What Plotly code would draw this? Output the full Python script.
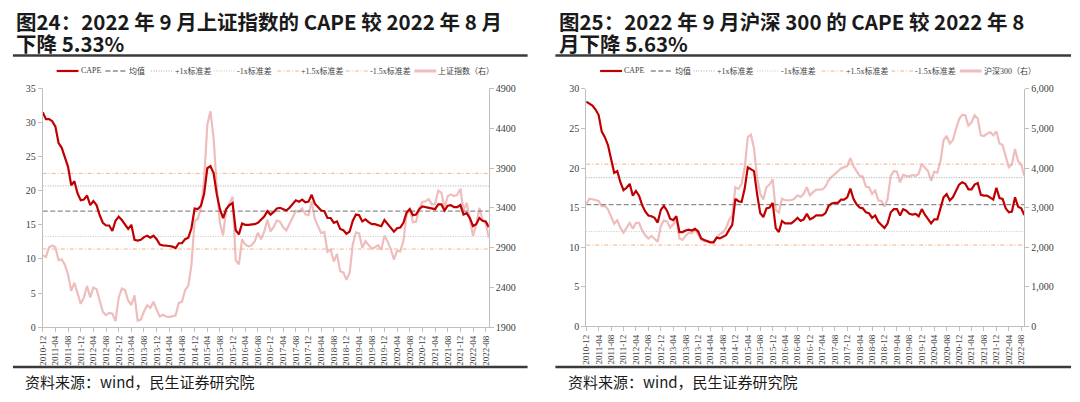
import pandas as pd
import plotly.graph_objects as go

# ---------------- data ----------------
months = pd.date_range("2010-12-01", periods=142, freq="MS").strftime("%Y-%m").tolist()
tick_months = months[::4]

sh_cape = [
    31.5, 30.5, 30.5, 30.2, 29.4, 27.0, 26.3, 25.0, 23.5, 20.8,
    21.4, 19.6, 18.6, 18.7, 19.3, 17.9, 18.5, 17.9, 16.4, 15.3,
    14.9, 14.9, 14.1, 15.6, 16.2, 15.7, 15.0, 14.4, 15.0, 12.8,
    12.7, 12.8, 13.2, 13.4, 13.1, 13.4, 12.9, 12.1, 12.0, 12.0,
    11.9, 11.8, 11.6, 12.3, 12.3, 12.9, 13.1, 14.5, 17.4, 17.3,
    17.8, 19.5, 23.3, 23.6, 22.6, 19.5, 17.3, 16.0, 17.3, 17.9,
    18.2, 14.2, 13.6, 15.2, 15.0, 15.0, 15.0, 15.1, 15.3, 15.7,
    16.2, 17.0, 16.5, 16.9, 17.4, 17.5, 17.3, 17.1, 17.5, 18.0,
    18.6, 18.4, 18.7, 18.3, 18.4, 19.4, 18.1, 17.6, 17.1, 17.0,
    16.0, 16.0, 15.3, 15.5, 14.4, 14.2, 13.7, 14.0, 15.6, 16.5,
    16.4, 15.5, 15.8, 15.4, 15.1, 15.1, 15.0, 14.8, 15.7, 15.1,
    14.5, 14.0, 14.5, 14.6, 15.3, 16.8, 17.3, 16.4, 16.5, 17.3,
    17.7, 17.6, 17.6, 17.5, 17.3, 18.0, 18.0, 17.1, 17.8, 17.9,
    17.6, 17.6, 17.9, 16.5, 16.7, 16.0, 14.8, 15.1, 16.0, 15.6,
    15.5, 14.67,
]
sh_index = [
    2803, 2783, 2905, 2926, 2905, 2742, 2750, 2681, 2559, 2356,
    2458, 2315, 2193, 2274, 2417, 2274, 2397, 2376, 2234, 2091,
    2051, 2079, 2070, 1975, 2270, 2385, 2365, 2235, 2178, 2300,
    1979, 1994, 2098, 2175, 2141, 2220, 2116, 2033, 2056, 2033,
    2026, 2039, 2048, 2202, 2217, 2364, 2420, 2683, 3235, 3260,
    3400, 3748, 4441, 4612, 4277, 3664, 3206, 3053, 3383, 3445,
    3539, 2738, 2688, 3004, 2938, 2917, 2930, 2979, 3085, 3005,
    3100, 3250, 3104, 3159, 3242, 3223, 3155, 3117, 3192, 3273,
    3361, 3349, 3393, 3317, 3307, 3481, 3259, 3169, 3082, 3095,
    2847, 2876, 2725, 2821, 2603, 2588, 2494, 2585, 2941, 3091,
    3078, 2899, 2979, 2933, 2886, 2905, 2929, 2871, 3050, 2977,
    2880, 2750, 2860, 2852, 2985, 3310, 3396, 3218, 3225, 3392,
    3473, 3483, 3509, 3442, 3447, 3615, 3591, 3397, 3544, 3568,
    3547, 3564, 3640, 3362, 3462, 3253, 3047, 3186, 3399, 3253,
    3202, 3024,
]
hs_cape = [
    28.4, 28.1, 27.9, 27.4, 26.7, 24.6, 23.9, 22.9, 21.3, 19.4,
    19.6, 18.2, 17.2, 17.5, 18.0, 16.5, 17.1, 16.5, 15.3, 14.5,
    14.0, 13.9, 13.7, 13.1, 14.7, 15.2, 14.6, 13.6, 13.4, 13.9,
    11.9, 11.9, 12.1, 12.2, 12.1, 12.3, 12.0, 11.1, 10.9, 10.7,
    10.6, 10.6, 11.2, 11.1, 11.3, 11.5, 12.2, 12.8, 16.1, 15.8,
    15.7, 17.4, 20.1, 19.9, 19.6, 16.7, 14.3, 13.8, 14.9, 15.0,
    15.6, 12.4, 11.9, 13.3, 13.0, 13.0, 13.0, 13.3, 13.7, 13.3,
    13.5, 14.2, 13.5, 13.7, 14.0, 14.0, 14.0, 14.3, 15.2, 15.5,
    15.6, 15.6, 16.0, 16.0, 16.3, 17.4, 16.1, 15.4, 15.0, 14.9,
    14.4, 14.3, 13.7, 14.0, 13.2, 12.8, 12.4, 13.0, 14.4, 14.8,
    14.8, 14.0, 14.8, 14.6, 14.2, 14.1, 14.2, 13.9, 14.8, 14.1,
    13.5, 13.0, 13.5, 13.5, 14.9, 16.3, 16.7, 15.9, 16.3, 17.2,
    17.9, 18.2, 18.0, 17.3, 17.3, 17.9, 18.1, 16.6, 16.5, 16.5,
    16.2, 16.0, 17.5, 16.2, 16.1, 14.9, 14.4, 14.5, 16.3, 15.1,
    14.9, 14.06,
]
hs_index = [
    3086, 3226, 3210, 3190, 3168, 3037, 3037, 2955, 2774, 2590,
    2676, 2490, 2364, 2487, 2610, 2462, 2610, 2610, 2421, 2298,
    2216, 2282, 2216, 2134, 2528, 2676, 2651, 2487, 2569, 2700,
    2216, 2183, 2282, 2364, 2348, 2430, 2323, 2183, 2142, 2142,
    2118, 2142, 2240, 2330, 2370, 2480, 2692, 2800, 3513, 3472,
    3595, 4000, 4785, 4843, 4498, 3759, 3349, 3201, 3513, 3579,
    3718, 2938, 2873, 3226, 3185, 3185, 3185, 3226, 3308, 3267,
    3349, 3513, 3308, 3390, 3447, 3456, 3456, 3529, 3693, 3776,
    3841, 3900, 3989, 4022, 4047, 4252, 4047, 3923, 3800, 3784,
    3529, 3513, 3349, 3431, 3185, 3168, 3021, 3226, 3800, 3923,
    3907, 3636, 3825, 3800, 3784, 3825, 3800, 3858, 4104, 4006,
    3923, 3677, 3907, 3882, 4170, 4703, 4810, 4621, 4703, 4990,
    5237, 5343, 5335, 5073, 5155, 5335, 5253, 4826, 4810, 4867,
    4908, 4826, 4925, 4621, 4580, 4293, 4022, 4088, 4482, 4170,
    4088, 3800,
]

# mean and standard deviation
sh_mean, sh_std = 17.0, 3.7
hs_mean, hs_std = 15.37, 3.41

ref_names = ["均值", "+1x标准差", "-1x标准差", "+1.5x标准差", "-1.5x标准差"]
ref_mult = [0, 1, -1, 1.5, -1.5]

# ---------------- styling ----------------
W, H = 1080, 402
RED = "#C00000"
PINK = "#EFBDBD"
AX = "#BFBFBF"
TXT = "#404040"
SERIF = "Liberation Serif, Noto Sans CJK SC"
CJK = "Noto Sans CJK SC"

ref_styles = [
    dict(color="#8C8C8C", width=1.3, dash="5px,2.5px"),
    dict(color="#A6A6A6", width=1.0, dash="1px,1.5px"),
    dict(color="#C4C4C4", width=1.0, dash="1px,1.5px"),
    dict(color="#F4B183", width=1.0, dash="4px,2px,1px,2px"),
    dict(color="#F4B183", width=1.0, dash="4px,2px,1px,2px"),
]
cape_style = dict(color=RED, width=2.2)
idx_style = dict(color=PINK, width=2.2)


def px_x(v):
    return v / W


def px_y(v):
    return 1 - v / H


fig = go.Figure()


def add_panel(cape, idx, mean, std, xa, ya_idx, ya_cape):
    # index (right axis) drawn first so that CAPE sits on top
    fig.add_trace(go.Scatter(x=months, y=idx, mode="lines", line=idx_style,
                             xaxis=xa, yaxis=ya_idx, showlegend=False, hoverinfo="skip"))
    for m, st in zip(ref_mult, ref_styles):
        lvl = mean + m * std
        fig.add_trace(go.Scatter(x=[months[0], months[-1]], y=[lvl, lvl], mode="lines",
                                 line=st, xaxis=xa, yaxis=ya_cape, showlegend=False,
                                 hoverinfo="skip"))
    fig.add_trace(go.Scatter(x=months, y=cape, mode="lines", line=cape_style,
                             xaxis=xa, yaxis=ya_cape, showlegend=False, hoverinfo="skip"))


add_panel(sh_cape, sh_index, sh_mean, sh_std, "x", "y", "y2")
add_panel(hs_cape, hs_index, hs_mean, hs_std, "x2", "y3", "y4")

xcommon = dict(type="category", range=[0, len(months) - 1], tickmode="array",
               tickvals=tick_months, ticktext=tick_months, tickangle=-90,
               showline=True, linecolor=AX, linewidth=1, ticks="outside",
               ticklen=4, tickcolor=AX, showgrid=False, zeroline=False,
               tickfont=dict(family=SERIF, size=9, color=TXT))
ycommon = dict(showline=True, linecolor=AX, linewidth=1, ticks="outside",
               ticklen=4, tickcolor=AX, showgrid=False, zeroline=False,
               tickfont=dict(family=SERIF, size=10, color=TXT))

L_dom_x = [px_x(38), px_x(487)]
L_dom_y = [px_y(331), px_y(85)]
R_dom_x = [px_x(585), px_x(1026)]
R_dom_y = [px_y(330), px_y(85.5)]

fig.update_layout(
    width=W, height=H,
    margin=dict(l=0, r=0, t=0, b=0),
    paper_bgcolor="white", plot_bgcolor="white",
    showlegend=False,
    xaxis=dict(domain=L_dom_x, anchor="y", **xcommon),
    yaxis=dict(domain=L_dom_y, anchor="x", side="right", range=[1900, 4900],
               tickvals=[1900, 2400, 2900, 3400, 3900, 4400, 4900], **ycommon),
    yaxis2=dict(overlaying="y", anchor="x", side="left", range=[0, 35],
                tickvals=[0, 5, 10, 15, 20, 25, 30, 35], **ycommon),
    xaxis2=dict(domain=R_dom_x, anchor="y3", **xcommon),
    yaxis3=dict(domain=R_dom_y, anchor="x2", side="right", range=[0, 6000],
                tickvals=[0, 1000, 2000, 3000, 4000, 5000, 6000], tickformat=",",
                **ycommon),
    yaxis4=dict(overlaying="y3", anchor="x2", side="left", range=[0, 30],
                tickvals=[0, 5, 10, 15, 20, 25, 30], **ycommon),
)

# ---------------- legends (drawn as key lines + labels) ----------------
legend_styles = [cape_style] + ref_styles + [dict(color=PINK, width=3)]
legend_rows = [
    ([52, 101, 147, 210, 274, 343, 412], ["CAPE"] + ref_names + ["上证指数（右）"]),
    ([599, 650, 693, 757, 822, 892, 961], ["CAPE"] + ref_names + ["沪深300（右）"]),
]
LEG_Y = 67
for starts, labels in legend_rows:
    for s, lab, st in zip(starts, labels, legend_styles):
        fig.add_shape(type="line", xref="paper", yref="paper",
                      x0=px_x(s), x1=px_x(s + 22), y0=px_y(LEG_Y), y1=px_y(LEG_Y),
                      line=st)
        fig.add_annotation(text=lab, xref="paper", yref="paper",
                           x=px_x(s + 23), y=px_y(LEG_Y), xanchor="left", yanchor="middle",
                           showarrow=False, borderpad=0,
                           font=dict(family=SERIF, size=8, color=TXT))

# titles
titles = [
    (10, ["图24：2022 年 9 月上证指数的 CAPE 较 2022 年 8 月", "下降 5.33%"]),
    (557, ["图25：2022 年 9 月沪深 300 的 CAPE 较 2022 年 8", "月下降 5.63%"]),
]
for x0, lines in titles:
    for j, t in enumerate(lines):
        fig.add_annotation(text="<b>" + t + "</b>", xref="paper", yref="paper",
                           x=px_x(x0), y=px_y(15 + 23 * j), xanchor="left", yanchor="middle",
                           showarrow=False, borderpad=0,
                           font=dict(family=CJK, size=20.5, color="#1A1A1A"))

# source notes
for x0 in (19, 566):
    fig.add_annotation(text="资料来源：wind，民生证券研究院", xref="paper", yref="paper",
                       x=px_x(x0), y=px_y(387), xanchor="left", yanchor="middle",
                       showarrow=False, borderpad=0,
                       font=dict(family=CJK, size=15, color="#1A1A1A"))

# horizontal rules
for (a, b) in ((8, 526), (554, 1073)):
    for yy in (51, 372):
        fig.add_shape(type="line", xref="paper", yref="paper",
                      x0=px_x(a), x1=px_x(b), y0=px_y(yy), y1=px_y(yy),
                      line=dict(color="#3A3A3A", width=2.5))

fig.write_html("out.html", config={"displayModeBar": False},
               post_script="document.body.style.margin='0';")
